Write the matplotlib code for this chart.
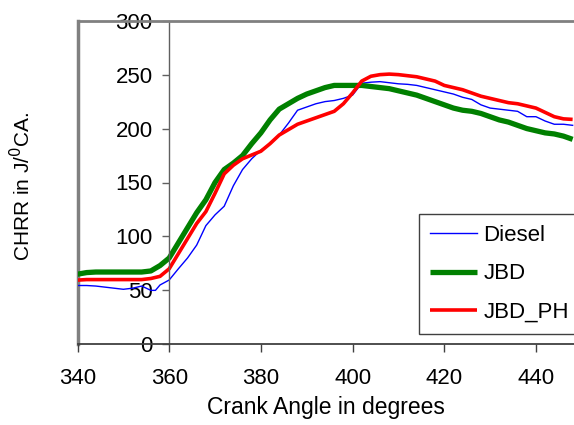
import matplotlib
matplotlib.use("Agg")
import matplotlib.pyplot as plt

plt.rcParams.update({
    "font.family": ["Liberation Sans", "DejaVu Sans"],
    "font.size": 16,
})

# Crank angle (deg) for JBD and JBD_PH
angle = list(range(340, 450, 2))

jbd = [65, 66.5, 67, 67, 67, 67, 67, 67, 68, 73,
       80, 94, 108, 122, 134, 150, 162, 168, 175, 186,
       196, 208, 218, 223, 228, 232, 235, 238, 240, 240,
       240, 240, 239, 238, 237, 235, 233, 231, 228, 225,
       222, 219, 217, 216, 214, 211, 208, 206, 203, 200,
       198, 196, 195, 193, 190]

jbd_ph = [59.5, 60, 60, 60, 60, 60, 60, 60, 61, 63,
          70, 84, 98, 112, 123, 140, 158, 166, 172, 175.5,
          179, 186, 194, 199, 204, 207, 210, 213, 216, 223,
          233, 244, 248.5, 250, 250.5, 250, 249, 248, 246, 244,
          240, 238, 236, 233, 230, 228, 226, 224, 223, 221,
          219, 215, 211, 209, 208.5]

# Diesel has its own (finer near 355) angle grid
diesel_angle = [340, 342, 344, 346, 348, 350, 352, 354, 355, 356, 357, 358,
                360, 362, 364, 366, 368, 370, 372, 374, 376, 378,
                380, 382, 384, 386, 388, 390, 392, 394, 396, 398,
                400, 402, 404, 406, 408, 410, 412, 414, 416, 418,
                420, 422, 424, 426, 428, 430, 432, 434, 436, 438,
                440, 442, 444, 446, 448]
diesel = [54.5, 54.5, 54, 53, 52, 51, 52, 54, 52, 50, 50, 55,
          59.6, 70, 80, 92, 110, 120, 128, 147, 162, 172,
          180, 186, 194, 205, 217, 220, 223, 225, 226, 228,
          231, 242, 243, 243.5, 242.5, 241.5, 241, 240, 238, 236,
          234, 232, 229, 227, 222, 219, 218, 217, 216, 211,
          211, 207, 204, 204, 203]

fig = plt.figure(figsize=(5.74, 4.25), dpi=100)
ax = fig.add_axes([77.5 / 574, 1 - 344.3 / 425, 1 - 77.5 / 574, (344.3 - 20.7) / 425])

ax.plot(diesel_angle, diesel, color="#0000FF", lw=1.0, label="Diesel")
ax.plot(angle, jbd, color="#008000", lw=3.8, label="JBD", solid_capstyle="butt")
ax.plot(angle, jbd_ph, color="#FF0000", lw=2.6, label="JBD_PH", solid_capstyle="butt")

ax.set_xlim(340, 448.3)
ax.set_ylim(0, 300)
ax.set_xticks(range(340, 441, 20))
ax.set_yticks(range(0, 301, 50))

# Excel-like frame: grey plot-area border, y axis crossing at 360
ax.spines["right"].set_visible(False)
ax.spines["top"].set_color("#808080")
ax.spines["top"].set_linewidth(2)
ax.spines["left"].set_position(("data", 360))
ax.spines["left"].set_color("#606060")
ax.spines["left"].set_linewidth(1)
ax.spines["bottom"].set_color("#404040")
ax.spines["bottom"].set_linewidth(1.3)
ax.plot([0, 0], [0, 1], transform=ax.transAxes, color="#808080", lw=2.5,
        clip_on=False, zorder=0)

ax.tick_params(axis="y", direction="out", length=5, width=1, color="#606060", pad=7)
ax.tick_params(axis="x", direction="out", length=6, width=1, color="#404040", pad=11)

ax.set_xlabel("Crank Angle in degrees", fontsize=16.5, labelpad=5)
fig.text(22 / 574, 1 - 186 / 425, "CHRR in J/$^0$CA.", rotation=90,
         ha="center", va="center", fontsize=15)

leg = fig.legend(loc="upper left", bbox_to_anchor=(419 / 574, 1 - 214 / 425),
                 fontsize=16, frameon=True, fancybox=False, framealpha=1,
                 edgecolor="#404040", handlelength=2.1, handletextpad=0.3,
                 labelspacing=0.78, borderpad=0.5, borderaxespad=0)
leg.get_frame().set_linewidth(1)

fig.savefig("out.png", dpi=100)
